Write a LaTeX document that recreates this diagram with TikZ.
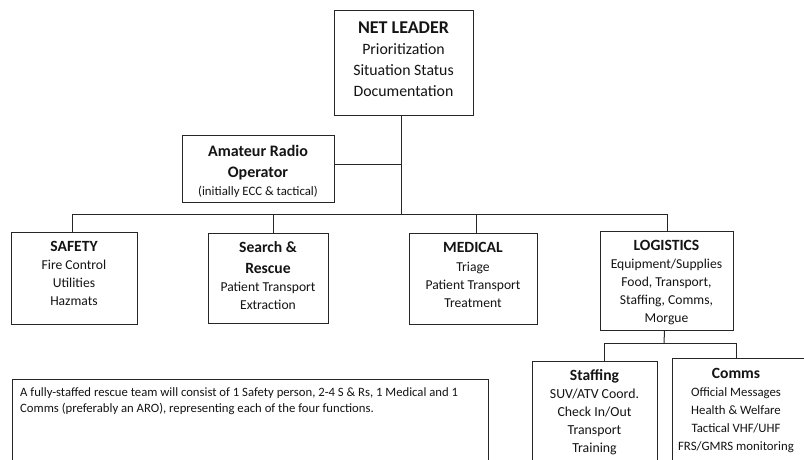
\documentclass[tikz,border=0pt]{standalone}
\usepackage{fontspec}
\setmainfont{Carlito}
\begin{document}
\begin{tikzpicture}[x=1pt,y=-1pt,
  box/.style={draw=black!85, line width=1pt, inner sep=0pt, anchor=north west, fill=white},
  lbl/.style={align=center, anchor=north, inner sep=0pt, text=black!92, font=\fontsize{13.6}{18}\selectfont},
  conn/.style={draw=black!85, line width=1pt}]
\useasboundingbox (0,0) rectangle (804,460);
\newcommand{\ttlA}[1]{{\bfseries\fontsize{15.6}{15.6}\selectfont #1}}
% boxes
\node[box, minimum width=139pt, minimum height=105pt] (net) at (334,10) {};
\node[box, minimum width=152pt, minimum height=67pt] (aro) at (182,135) {};
\node[box, minimum width=126pt, minimum height=92pt] (safety) at (11,232) {};
\node[box, minimum width=120pt, minimum height=90pt] (sr) at (208,233) {};
\node[box, minimum width=128pt, minimum height=91pt] (med) at (409,233) {};
\node[box, minimum width=133pt, minimum height=99pt] (logi) at (600,231) {};
\node[box, minimum width=476pt, minimum height=95pt] (note) at (12,379) {};
\node[box, minimum width=125pt, minimum height=110pt] (staff) at (532,361) {};
\node[box, minimum width=136pt, minimum height=115pt] (comms) at (672,358) {};
% labels
\node[lbl, font=\fontsize{15.8}{21}\selectfont] (netl) at (403.5,21.5)
  {{\bfseries\fontsize{18}{18}\selectfont NET LEADER}\\Prioritization\\Situation Status\\Documentation};
\node[lbl, font=\fontsize{12.8}{17.5}\selectfont] (arol) at (258,145.5)
  {{\bfseries\fontsize{16}{16}\selectfont Amateur Radio}\\[3.5pt]{\bfseries\fontsize{16}{16}\selectfont Operator}\\(initially ECC \& tactical)};
\node[lbl] (safetyl) at (74,241.5)
  {\ttlA{SAFETY}\\Fire Control\\Utilities\\Hazmats};
\node[lbl] (srl) at (268,241.2)
  {\ttlA{Search \&}\\[3.5pt]\ttlA{Rescue}\\Patient Transport\\Extraction};
\node[lbl] (medl) at (473,241.8)
  {\ttlA{MEDICAL}\\[1.5pt]Triage\\Patient Transport\\Treatment};
\node[lbl] (logil) at (666.5,240.2)
  {\ttlA{LOGISTICS}\\Equipment/Supplies\\Food, Transport,\\Staffing, Comms,\\Morgue};
\node[lbl, font=\fontsize{13.8}{18}\selectfont] (staffl) at (594.5,369.5)
  {{\bfseries\fontsize{15.6}{15.6}\selectfont Staffing}\\SUV/ATV Coord.\\Check In/Out\\Transport\\Training};
\node[lbl, font=\fontsize{12.8}{18}\selectfont] (commsl) at (736,368)
  {{\bfseries\fontsize{15.6}{15.6}\selectfont Comms}\\Official Messages\\Health \& Welfare\\Tactical VHF/UHF\\FRS/GMRS monitoring};
\node[anchor=north west, inner sep=0pt, align=left, text=black!92, font=\fontsize{12.7}{16.7}\selectfont] (notel) at (20,387.2)
  {A fully-staffed rescue team will consist of 1 Safety person, 2-4 S \& Rs, 1 Medical and 1\\Comms (preferably an ARO), representing each of the four functions.};
% connectors
\coordinate (j1) at (401,214);
\coordinate (j2) at (664,343);
\draw[conn] (net.south -| j1) -- (j1);
\draw[conn] ([yshift=4.5pt]aro.east) -- ([yshift=4.5pt]aro.east -| j1);
\draw[conn] (j1) -| ([xshift=-2pt]safety.north);
\draw[conn] (j1) -| ([xshift=5pt]sr.north);
\draw[conn] (j1) -| ([xshift=3pt]med.north);
\draw[conn] (j1) -| ([xshift=0.5pt]logi.north);
\draw[conn] ([xshift=-2.5pt]logi.south) -- (j2);
\draw[conn] (j2) -| ([xshift=9.5pt]staff.north);
\draw[conn] (j2) -| ([xshift=-4pt]comms.north);
\end{tikzpicture}
\end{document}
